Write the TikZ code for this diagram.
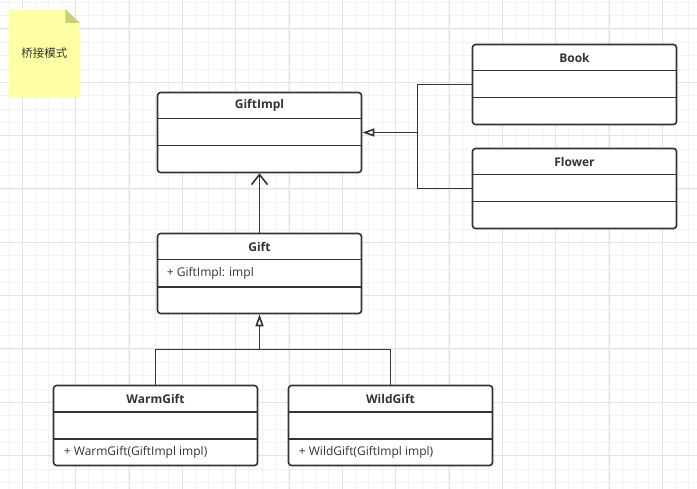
\documentclass[tikz,border=0pt]{standalone}
\usepackage{fontspec}
\setmainfont{Open Sans}
\newfontfamily\cjk{Noto Sans CJK SC}
\usetikzlibrary{arrows.meta,calc}
\definecolor{ink}{HTML}{333333}
\definecolor{gridminor}{HTML}{F2F2F2}
\definecolor{gridmajor}{HTML}{E3E3E3}
\definecolor{notefill}{HTML}{FFFFA3}
\definecolor{notefold}{HTML}{CDCC78}
\tikzset{
  classbox/.style={draw=ink, fill=white, line width=1.6bp, rounded corners=3bp,
    minimum width=204bp, minimum height=80bp, inner sep=0pt},
  divider/.style={draw=ink, line width=1.6bp},
  titletext/.style={font=\fontsize{12bp}{14bp}\selectfont\bfseries, text=ink, inner sep=0pt},
  membertext/.style={font=\fontsize{12bp}{14bp}\selectfont, text=ink, inner sep=0pt, anchor=west},
  conn/.style={draw=ink, line width=1.6bp},
  assoc/.style={conn, -{Straight Barb[length=10bp,width=16bp,line width=1.6bp]}},
  gener/.style={conn, -{Triangle[open,length=12bp,width=8bp,fill=white,line width=1.6bp]}},
}
\newcommand\umlclass[6]{%
  \node[classbox] (#1) at (#2,#3) {};
  \draw[divider] ($(#1.north west)+(0,27)$) -- ($(#1.north east)+(0,27)$);
  \draw[divider] ($(#1.north west)+(0,54)$) -- ($(#1.north east)+(0,54)$);
  \node[titletext] (#1-title) at ($(#1.north)+(0,14)$) {#4};
  \node[membertext] (#1-attr) at ($(#1.north west)+(10,40.5)$) {#5};
  \node[membertext] (#1-meth) at ($(#1.north west)+(11,67.5)$) {#6};
}
\begin{document}
\begin{tikzpicture}[x=1bp,y=-1bp]
\useasboundingbox (0,0) rectangle (697,489);
\fill[white] (0,0) rectangle (697,489);
% grid
\foreach \i in {0,...,52} {
  \pgfmathsetmacro\xx{9.0+13.333*\i}
  \pgfmathsetmacro\yy{2.4+13.333*\i}
  \draw[gridminor, line width=1bp] (\xx,0) -- (\xx,489);
  \draw[gridminor, line width=1bp] (0,\yy) -- (697,\yy);
}
\foreach \i in {0,...,13} {
  \pgfmathsetmacro\xx{22.4+53.333*\i}
  \pgfmathsetmacro\yy{29.0+53.333*\i}
  \draw[gridmajor, line width=1bp] (\xx,0) -- (\xx,489);
  \draw[gridmajor, line width=1bp] (0,\yy) -- (697,\yy);
}
% note
\fill[notefill] (8.7,9) -- (65.3,9) -- (80,23) -- (80,97.3) -- (8.7,97.3) -- cycle;
\fill[notefold] (65.3,9) -- (80,23) -- (65.3,23) -- cycle;
\node[text=ink, inner sep=0pt, font=\cjk\fontsize{11.5bp}{13bp}\selectfont] (note) at (44.3,53.3) {桥接模式};
% classes
\umlclass{giftimpl}{259.5}{132.5}{GiftImpl}{}{}
\umlclass{book}{574.5}{84.5}{Book}{}{}
\umlclass{flower}{574.5}{188.5}{Flower}{}{}
\umlclass{gift}{259.5}{273.5}{Gift}{+ GiftImpl: impl}{}
\umlclass{warmgift}{155.5}{425.5}{WarmGift}{}{+ WarmGift(GiftImpl impl)}
\umlclass{wildgift}{390.5}{425.5}{WildGift}{}{+ WildGift(GiftImpl impl)}
% connectors
\coordinate (j1) at (417.5,132.5);
\coordinate (j2) at (259.5,349.5);
\draw[conn] (book.west) -| (j1);
\draw[conn] (flower.west) -| (j1);
\draw[gener] (j1) -- (giftimpl.east);
\draw[assoc] (gift.north) -- (giftimpl.south);
\draw[conn] (warmgift.north) |- (j2);
\draw[conn] (wildgift.north) |- (j2);
\draw[gener] (j2) -- (gift.south);
\end{tikzpicture}
\end{document}
